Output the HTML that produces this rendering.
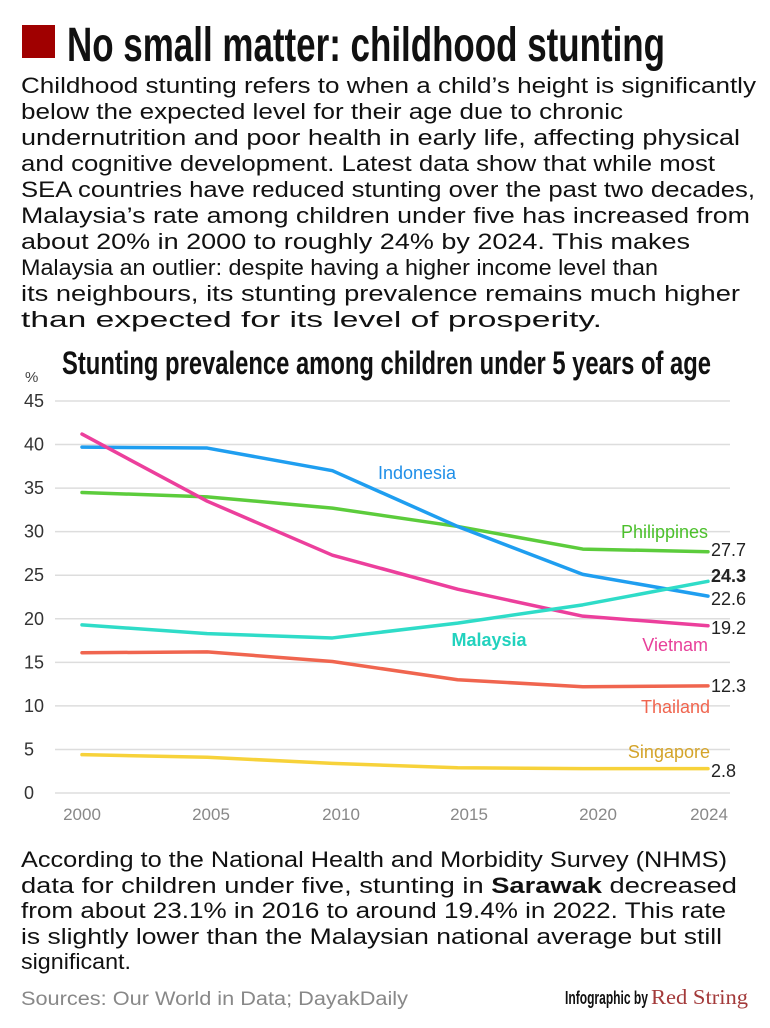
<!DOCTYPE html>
<html><head><meta charset="utf-8"><style>
html,body{margin:0;padding:0;background:#fff;}
svg{display:block;}
text{font-family:"Liberation Sans",Arial,sans-serif;}
.cond{font-family:"Liberation Sans Narrow","Liberation Sans",sans-serif;font-weight:bold;}
.p{font-size:22px;fill:#111;}
.tick{font-size:18px;fill:#333;}
.xt{font-size:17px;fill:#888;}
.end{font-size:18px;fill:#222;}
</style></head><body>
<svg id="page" width="770" height="1028" viewBox="0 0 770 1028">
<rect x="22" y="25" width="33" height="33" fill="#a00000"/>
<text class="cond" x="67" y="61" font-size="48" textLength="598" lengthAdjust="spacingAndGlyphs" fill="#111">No small matter: childhood stunting</text>
<g>
<text class="p" x="21" y="93" textLength="735" lengthAdjust="spacingAndGlyphs">Childhood stunting refers to when a child’s height is significantly</text>
<text class="p" x="21" y="119" textLength="602" lengthAdjust="spacingAndGlyphs">below the expected level for their age due to chronic</text>
<text class="p" x="21" y="145" textLength="719" lengthAdjust="spacingAndGlyphs">undernutrition and poor health in early life, affecting physical</text>
<text class="p" x="21" y="171" textLength="694" lengthAdjust="spacingAndGlyphs">and cognitive development. Latest data show that while most</text>
<text class="p" x="21" y="197" textLength="734" lengthAdjust="spacingAndGlyphs">SEA countries have reduced stunting over the past two decades,</text>
<text class="p" x="21" y="223" textLength="729" lengthAdjust="spacingAndGlyphs">Malaysia’s rate among children under five has increased from</text>
<text class="p" x="21" y="249" textLength="669" lengthAdjust="spacingAndGlyphs">about 20% in 2000 to roughly 24% by 2024. This makes</text>
<text class="p" x="21" y="275" textLength="637" lengthAdjust="spacingAndGlyphs">Malaysia an outlier: despite having a higher income level than</text>
<text class="p" x="21" y="301" textLength="719" lengthAdjust="spacingAndGlyphs">its neighbours, its stunting prevalence remains much higher</text>
<text class="p" x="21" y="327" textLength="581" lengthAdjust="spacingAndGlyphs">than expected for its level of prosperity.</text>
</g>
<text class="cond" x="62" y="374" font-size="32" textLength="649" lengthAdjust="spacingAndGlyphs" fill="#111">Stunting prevalence among children under 5 years of age</text>
<text x="25" y="382" font-size="15" fill="#444">%</text>
<g id="chart"></g>
<g>
<text class="p" x="21" y="867" textLength="706" lengthAdjust="spacingAndGlyphs">According to the National Health and Morbidity Survey (NHMS)</text>
<text class="p" x="21" y="893" textLength="716" lengthAdjust="spacingAndGlyphs">data for children under five, stunting in <tspan font-weight="bold">Sarawak</tspan> decreased</text>
<text class="p" x="21" y="918" textLength="705" lengthAdjust="spacingAndGlyphs">from about 23.1% in 2016 to around 19.4% in 2022. This rate</text>
<text class="p" x="21" y="944" textLength="701" lengthAdjust="spacingAndGlyphs">is slightly lower than the Malaysian national average but still</text>
<text class="p" x="21" y="969" textLength="110" lengthAdjust="spacingAndGlyphs">significant.</text>
</g>
<text x="21" y="1005" font-size="19" fill="#888" textLength="387" lengthAdjust="spacingAndGlyphs">Sources: Our World in Data; DayakDaily</text>
<text class="cond" x="565" y="1004" font-size="18" fill="#111" textLength="83" lengthAdjust="spacingAndGlyphs">Infographic by</text>
<text x="651" y="1004" font-size="21" fill="#a33a3a" style="font-family:'Liberation Serif',serif" textLength="97" lengthAdjust="spacingAndGlyphs">Red String</text>
</svg>
<script>
const years = ["2000","2005","2010","2015","2020","2024"];
const yTicks = [0,5,10,15,20,25,30,35,40,45];
const indonesia = [39.7,39.6,37.0,30.6,25.1,22.6];
const philippines = [34.5,34.0,32.7,30.6,28.0,27.7];
const vietnam = [41.2,33.5,27.3,23.4,20.3,19.2];
const malaysia = [19.3,18.3,17.8,19.5,21.6,24.3];
const thailand = [16.1,16.2,15.1,13.0,12.2,12.3];
const singapore = [4.4,4.1,3.4,2.9,2.8,2.8];
const endLabels = ["27.7","24.3","22.6","19.2","12.3","2.8"];

const NS = "http://www.w3.org/2000/svg";
const g = document.getElementById("chart");
function xs(i){ return 82 + i * (708 - 82) / (years.length - 1); }
function ys(v){ return 793 - v * (392 / 45); }
function mk(tag, attrs, txt){
  const e = document.createElementNS(NS, tag);
  for (const k in attrs) e.setAttribute(k, attrs[k]);
  if (txt !== undefined) e.textContent = txt;
  g.appendChild(e);
  return e;
}
yTicks.forEach(t => {
  const l = mk("line", {x1:55, x2:730, y1:ys(t), y2:ys(t), stroke:"#ddd", "stroke-width":1.5});
  
  
  const tx = mk("text", {x:24, y:ys(t)+6, class:"tick"}, String(t));
  
  
});
const labelX = [82,211,341,469,598,709];
years.forEach((y, i) => {
  const tx = mk("text", {x:labelX[i], y:820, class:"xt", "text-anchor":"middle"}, y);
  
  
});
const series = [
  ["singapore", singapore, "#f7d23a"],
  ["thailand", thailand, "#f0654f"],
  ["philippines", philippines, "#5ccc3c"],
  ["indonesia", indonesia, "#1f9ef0"],
  ["vietnam", vietnam, "#ec3f9c"],
  ["malaysia", malaysia, "#2fdcc8"]
];
series.forEach(s => {
  const pts = s[1].map((v, i) => xs(i) + "," + ys(v)).join(" ");
  const p = mk("polyline", {points:pts, fill:"none", stroke:s[2], "stroke-width":3.5, "stroke-linejoin":"round", "stroke-linecap":"round"});
  
  
});
const names = [
  ["Indonesia", 417, 479, "middle", "#1f8fe8", "normal"],
  ["Philippines", 708, 538, "end", "#4cc02c", "normal"],
  ["Malaysia", 489, 646, "middle", "#22d2be", "bold"],
  ["Vietnam", 708, 651, "end", "#e8409a", "normal"],
  ["Thailand", 710, 713, "end", "#f0654f", "normal"],
  ["Singapore", 710, 758, "end", "#d4a42a", "normal"]
];
names.forEach(n => {
  const t = mk("text", {x:n[1], y:n[2], "text-anchor":n[3], fill:n[4], "font-size":18, "font-weight":n[5]}, n[0]);
  
  
});
const endY = [556, 582, 605, 634, 692, 777];
endLabels.forEach((lab, i) => {
  const t = mk("text", {x:711, y:endY[i], class:"end", "font-weight": i === 1 ? "bold" : "normal"}, lab);
  
  
});
</script>
</body></html>
